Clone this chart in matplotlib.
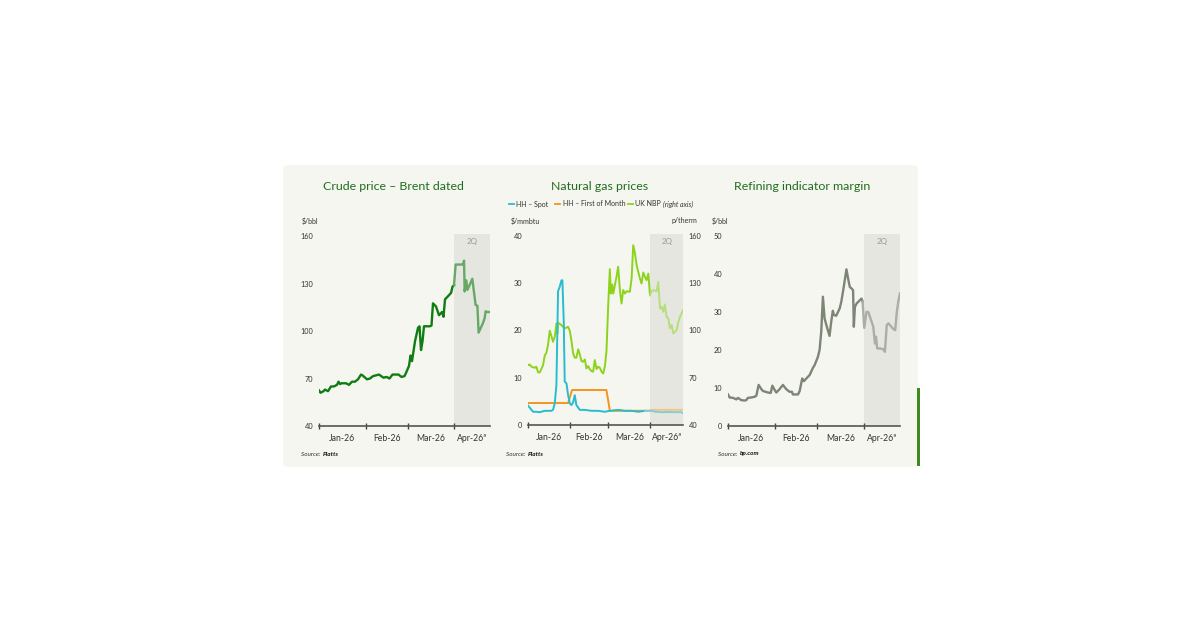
import numpy as np
import pandas as pd
import matplotlib.pyplot as plt
from matplotlib.patches import FancyBboxPatch, Rectangle
from matplotlib.lines import Line2D

plt.rcParams['font.family'] = ['Lato', 'DejaVu Sans']

# x values are days since 1 Jan 2026
brent_days = [0, 1, 3, 4, 6, 8, 10, 12, 13, 14, 15, 18, 20, 22, 24, 26, 28, 29, 32, 34,
              36, 40, 43, 45, 47, 49, 53, 55, 57, 58, 60, 61, 62, 64, 66, 67, 68, 69, 70, 74,
              75, 76, 78, 80, 82, 83, 84, 86, 88, 89, 90, 91.1, 96, 96.7, 97.1, 98.2, 98.9,
              100.4, 102.2, 104.4, 105.6, 106.4, 109.3, 110.4, 111.1, 112.2, 113.5]
brent_usd = [62.5, 61, 62, 63, 62, 65, 65, 66, 68, 66.5, 67, 67, 66, 68, 68, 69.5, 72.5, 72, 69.5, 70,
             71.5, 72.5, 70.5, 71, 70, 72.5, 72.5, 71, 71.5, 73.5, 78, 84.5, 81, 93.5, 102, 103, 88, 93.5, 103, 103,
             103.5, 117.5, 115.5, 110, 112, 109, 120, 122, 124, 128, 129, 142, 142, 144.5, 125, 132, 126,
             129, 133, 116.5, 116, 99, 105, 108, 112.5, 112, 112]

hh_spot_days = [0, 1.2, 3.7, 6.1, 8.6, 12.3, 17.2, 18.4, 19.7, 20.9, 22.1, 23.3, 24.6, 25.3, 26.3, 27,
                28.3, 29.5, 30.7, 31.9, 33.2, 34.4, 35.6, 38.1, 41.8, 46.7, 51.6, 56.5, 60.2, 66.3, 71.3,
                76.2, 81.1, 86.0, 90.9, 93.8, 98.8, 103.7, 108.6, 112.3, 114]
hh_spot = [4.1, 3.7, 2.8, 2.8, 2.7, 3.0, 3.0, 3.2, 4.6, 8.5, 28.3, 29.2, 30.6, 30.6, 21.8, 9.2,
           8.8, 6.3, 4.6, 4.2, 4.8, 6.3, 4.2, 3.2, 3.2, 3.0, 3.0, 2.8, 3.0, 3.2, 3.0,
           3.0, 2.8, 3.0, 3.0, 2.8, 2.7, 2.75, 2.7, 2.75, 2.5]

hh_fom_days = [0, 29.5, 32.4, 57.7, 60.2, 89.5, 90.5, 114]
hh_fom = [4.65, 4.65, 7.4, 7.4, 3.0, 3.0, 3.2, 3.2]

nbp_days = [0, 1.2, 2.5, 4.9, 6.1, 7.4, 8.6, 9.8, 11.1, 12.3, 13.5, 14.7, 16.0, 17.2, 18.4, 19.7,
            20.9, 21.6, 22.1, 24.6, 27.0, 29.5, 30.7, 31.9, 33.2, 34.4, 35.6, 36.9, 38.1, 39.3, 40.5,
            41.8, 43.0, 44.2, 45.5, 46.7, 47.9, 49.1, 50.4, 51.6, 52.8, 54.1, 55.3, 56.5, 57.7, 59.0,
            60.2, 60.9, 61.9, 62.7, 63.9, 65.1, 66.3, 67.6, 68.8, 70.0, 71.3, 72.5, 74.9, 76.2, 77.4,
            78.6, 79.9, 81.1, 82.3, 83.5, 84.8, 86.0, 87.2, 88.5, 89.7, 90.9, 92.1, 94.6, 95.8, 97.1,
            98.3, 99.5, 100.7, 101.9, 103.2, 104.4, 105.7, 106.9, 108.1, 109.3, 110.6, 111.8, 114]
nbp = [78, 78.4, 77, 76.3, 77, 73.4, 73.4, 75.5, 78, 84, 85.8, 90.7, 99.8, 96.6, 92.8, 96,
       104.4, 98, 104.9, 103.4, 101.3, 102.3, 99.8, 93.9, 85.4, 82.7, 82.7, 88, 84.8, 80.6, 80.1,
       81.6, 75.9, 77.4, 75.3, 74.2, 73.8, 81.2, 75.5, 77, 76.3, 73.8, 72.7, 77, 86.5, 116,
       138.9, 123.4, 129.2, 123.4, 128.7, 134, 140.4, 125.6, 117.1, 125.6, 123.4, 124.9, 124.5, 133, 154.1,
       149.4, 141.4, 137.2, 133, 129.8, 136.8, 134, 131.9, 136.1, 122.4, 124.9, 125.6, 124.9, 130.8, 113.9,
       115, 111.8, 116.5, 108.7, 107.6, 101.3, 103.4, 98.1, 99.2, 100.2, 105.5, 108.7, 112.9]

rim_days = [0, 1.1, 3.3, 5.5, 6.6, 8.8, 11.0, 12.1, 13.2, 15.5, 17.7, 18.8, 20.3, 22.1, 23.2, 26.5,
            28.3, 29.4, 30.9, 32.0, 34.2, 36.4, 38.6, 40.8, 42.4, 43.0, 46.4, 47.5, 49.2, 50.3, 51.9,
            54.1, 56.3, 57.4, 59.6, 60.7, 61.8, 62.9, 64.0, 65.8, 67.3, 68.4, 69.5, 70.2, 71.7, 74.0,
            75.1, 76.2, 78.5, 79.6, 80.7, 81.8, 82.9, 83.4, 84.1, 85.2, 87.4, 88.5, 89.2, 90.3,
            91.8, 93.0, 94.1, 96.3, 97.4, 98.1, 98.9, 100.7, 102.9, 104.0, 105.2, 106.3, 107.4, 109.6,
            110.8, 111.9, 113.0, 114]
rim = [8.3, 7.5, 7.4, 7.0, 7.4, 6.8, 6.7, 6.8, 7.4, 7.5, 7.7, 8.0, 10.8, 9.7, 9.2, 8.8,
       8.7, 10.6, 9.5, 8.8, 9.7, 10.8, 9.7, 9.0, 9.0, 8.3, 8.3, 9.2, 12.5, 11.8, 12.5,
       13.4, 15.3, 16.0, 18.2, 20.0, 24.8, 34.0, 28.3, 25.7, 23.7, 27.4, 30.3, 29.2, 29.0, 30.9,
       32.7, 35.3, 41.2, 38.8, 36.6, 36.2, 35.7, 26.1, 31.3, 32.2, 33.1, 33.5, 32.7, 25.8,
       30.0, 30.0, 28.7, 26.1, 21.7, 23.5, 20.4, 20.4, 20.2, 19.5, 26.5, 27.0, 26.5, 25.5,
       25.2, 30.0, 33.1, 34.9]

month_labels = ['Jan-26', 'Feb-26', 'Mar-26', 'Apr-26ª']
month_starts = [0, 31, 59, 90]
x_end = 114
q2_start = 90

card = '#f5f6ef'
shade = '#e6e6e1'
title_col = '#1f6e1f'
text_col = '#333333'


def split(days, vals):
    d = np.array(days, float)
    v = np.array(vals, float)
    a = d <= q2_start
    b = d >= q2_start
    # keep the lines joined
    i = np.where(a)[0][-1]
    b[i] = True
    return (d[a], v[a]), (d[b], v[b])


def setup(ax, ylim, yticks, span=True):
    ax.set_facecolor('none')
    ax.set_xlim(0, x_end)
    ax.set_ylim(*ylim)
    for s in ['top', 'right', 'left']:
        ax.spines[s].set_visible(False)
    ax.spines['bottom'].set_color('#555555')
    ax.spines['bottom'].set_linewidth(1.2)
    if span:
        ax.axvspan(q2_start, x_end, color=shade, zorder=0, lw=0)
    ax.text((q2_start + x_end) / 2, 0.96, '2Q', transform=ax.get_xaxis_transform(),
            ha='center', va='center', fontsize=5.8, color='#9a9a96')
    ax.set_xticks(month_starts)
    ax.set_xticklabels([])
    ax.tick_params(axis='x', which='major', direction='inout', length=5, width=1,
                   color='#444444')
    mids = [15.5, 45, 74.5, (q2_start + x_end) / 2]
    ax.set_xticks(mids, minor=True)
    ax.set_xticklabels(month_labels, minor=True, fontsize=6.2, color=text_col)
    ax.tick_params(axis='x', which='minor', length=0, pad=6)
    ax.set_yticks(yticks)
    ax.tick_params(axis='y', length=0, labelsize=5.3, labelcolor=text_col, pad=4)


def fx(px):
    return px / 1200


def fy(py):
    return 1 - py / 630


fig = plt.figure(figsize=(12, 6.3), dpi=100)
fig.patches.append(FancyBboxPatch((fx(283), fy(467)), 635 / 1200, 302 / 630,
                                  boxstyle='round,pad=0,rounding_size=0.006',
                                  transform=fig.transFigure, fc=card, ec='none', zorder=-2))
fig.patches.append(Rectangle((fx(917), fy(466)), 3 / 1200, 78 / 630,
                             transform=fig.transFigure, fc='#3f8a1e', ec='none', zorder=-2))

# Crude
ax1 = fig.add_axes([fx(319), fy(426), fx(171), 192 / 630])
setup(ax1, (40, 161.3), [40, 70, 100, 130, 160])
(d1, v1), (d2, v2) = split(brent_days, brent_usd)
ax1.plot(d1, v1, color='#0f7d12', lw=1.7)
ax1.plot(d2, v2, color='#66a866', lw=1.7)

# Natural gas (right axis drawn underneath, holds the shading)
ax2r = fig.add_axes([fx(528), fy(425), fx(155), 191 / 630])
ax2r.set_xlim(0, x_end)
ax2r.set_ylim(40, 161.2)
ax2r.axvspan(q2_start, x_end, color=shade, zorder=0, lw=0)
ax2r.yaxis.tick_right()
ax2r.set_yticks([40, 70, 100, 130, 160])
ax2r.set_xticks([])
for s in ax2r.spines.values():
    s.set_visible(False)
ax2r.set_facecolor('none')
ax2r.tick_params(axis='y', length=0, labelsize=5.3, labelcolor=text_col, pad=4)
(d1, v1), (d2, v2) = split(nbp_days, nbp)
ax2r.plot(d1, v1, color='#8dd31c', lw=1.4)
ax2r.plot(d2, v2, color='#b6de7c', lw=1.4)

ax2 = fig.add_axes([fx(528), fy(425), fx(155), 191 / 630])
setup(ax2, (0, 40.4), [0, 10, 20, 30, 40], span=False)
(d1, v1), (d2, v2) = split(hh_fom_days, hh_fom)
ax2.plot(d1, v1, color='#f7941d', lw=1.4, zorder=3)
ax2.plot(d2, v2, color='#f9c27f', lw=1.4, zorder=3)
(d1, v1), (d2, v2) = split(hh_spot_days, hh_spot)
ax2.plot(d1, v1, color='#27bccf', lw=1.4, zorder=4)
ax2.plot(d2, v2, color='#7fcfd9', lw=1.4, zorder=4)

# Refining margin
ax3 = fig.add_axes([fx(728), fy(426), fx(172), 192 / 630])
setup(ax3, (0, 50.5), [0, 10, 20, 30, 40, 50])
(d1, v1), (d2, v2) = split(rim_days, rim)
ax3.plot(d1, v1, color='#7d8576', lw=1.7)
ax3.plot(d2, v2, color='#aaaea4', lw=1.7)

# Titles and labels
for x, t in [(393, 'Crude price – Brent dated'), (600, 'Natural gas prices'),
             (802, 'Refining indicator margin')]:
    fig.text(fx(x), fy(186), t, ha='center', va='center', fontsize=8.9, color=title_col)

fig.text(fx(302), fy(221), '$/bbl', fontsize=5, color=text_col, va='center')
fig.text(fx(511), fy(221), '$/mmbtu', fontsize=5, color=text_col, va='center')
fig.text(fx(697), fy(221), 'p/therm', fontsize=5, color=text_col, va='center', ha='right')
fig.text(fx(712), fy(221), '$/bbl', fontsize=5, color=text_col, va='center')

# Legend
last = None
for x0, col, lab, lx in [(509, '#27bccf', 'HH – Spot', 516),
                         (555, '#f7941d', 'HH – First of Month', 563),
                         (628, '#8dd31c', 'UK NBP', 635)]:
    fig.add_artist(Line2D([fx(x0), fx(x0 + 4.5)], [fy(204), fy(204)], color=col, lw=1.3,
                          transform=fig.transFigure))
    last = fig.text(fx(lx), fy(204), lab, fontsize=5, color=text_col, va='center')
fig.add_artist(plt.Annotation('(right axis)', xy=(1, 0.5), xycoords=last,
                              xytext=(1.5, 0), textcoords='offset points',
                              fontsize=5, color=text_col, va='center', style='italic'))

# Sources
for x, src in [(301, 'Platts'), (506, 'Platts'), (718, 'bp.com')]:
    t = fig.text(fx(x), fy(454), 'Source: ', fontsize=4.6, color=text_col, va='center',
                 style='italic')
    fig.add_artist(plt.Annotation(src, xy=(1, 0.5), xycoords=t, xytext=(0.5, 0),
                                  textcoords='offset points', fontsize=4.6, color='#111111',
                                  va='center', style='italic', weight='bold'))

fig.savefig('out.png', dpi=100, facecolor='white')
